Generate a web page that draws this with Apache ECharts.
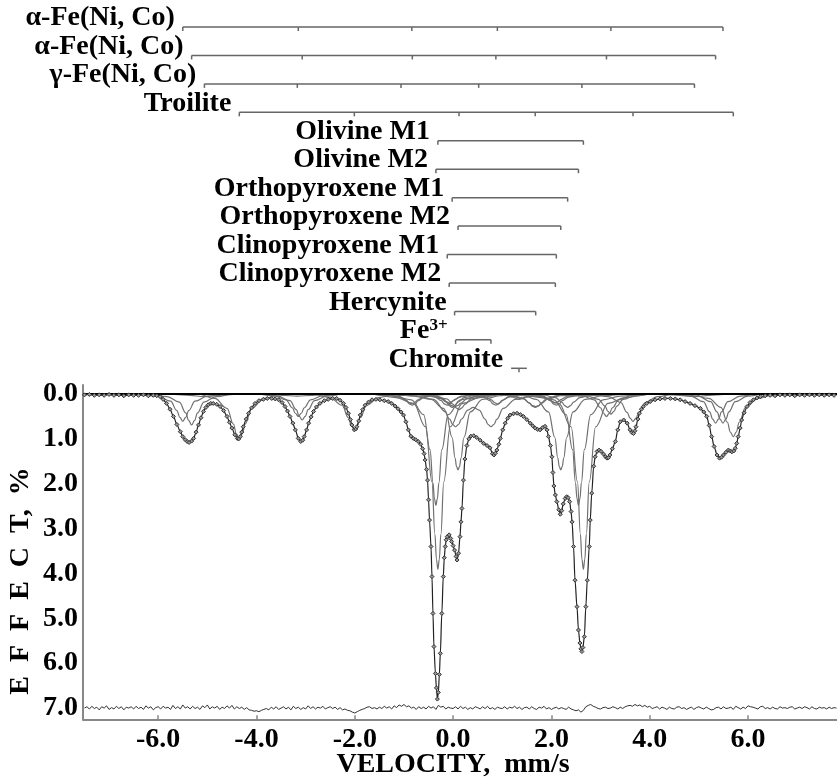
<!DOCTYPE html>
<html>
<head>
<meta charset="utf-8">
<script src="https://cdn.jsdelivr.net/npm/echarts@6/dist/echarts.min.js"></script>
<style>html,body{margin:0;padding:0;background:#fff;}#chart{width:837px;height:783px;}</style>
</head>
<body>
<div id="chart"></div>
<script>
// ---------- axes ----------
const X_MIN = -7.53, X_MAX = 7.81;
const Y_MIN = -0.2, Y_MAX = 7.25;
const xTicks = [-6, -4, -2, 0, 2, 4, 6];
const yTicks = [0, 1, 2, 3, 4, 5, 6, 7];
const xTitle = 'VELOCITY,  mm/s';
const yTitle = 'E  F  F  E  C  T,  %';

// ---------- stick diagrams (line positions, mm/s) ----------
const stickNames = ['α-Fe(Ni, Co)', 'α-Fe(Ni, Co)', 'γ-Fe(Ni, Co)', 'Troilite', 'Olivine M1', 'Olivine M2',
  'Orthopyroxene M1', 'Orthopyroxene M2', 'Clinopyroxene M1', 'Clinopyroxene M2', 'Hercynite', 'Fe3+', 'Chromite'];
const alphaFe1Lines = [-5.50, -3.15, -0.84, 0.90, 3.21, 5.49];
const alphaFe2Lines = [-5.32, -3.07, -0.83, 0.87, 3.12, 5.34];
const gammaFeLines = [-5.06, -3.17, -1.06, 0.52, 2.62, 4.91];
const troiliteLines = [-4.35, -2.01, 0.12, 1.67, 3.66, 5.70];
const olivineM1Lines = [-0.31, 2.65];
const olivineM2Lines = [-0.35, 2.55];
const opxM1Lines = [-0.02, 2.33];
const opxM2Lines = [0.10, 2.19];
const cpxM1Lines = [-0.12, 2.10];
const cpxM2Lines = [-0.08, 2.08];
const hercyniteLines = [0.03, 1.68];
const fe3Lines = [0.05, 0.77];
const chromiteLines = [1.34];

// ---------- spectrum envelope (velocity, effect %) ----------
const envelope = [
[-7.50,0.02],[-7.40,0.01],[-7.30,0.03],[-7.20,0.02],[-7.10,0.03],[-7.00,0.01],[-6.90,0.03],[-6.80,0.02],[-6.70,0.04],[-6.60,0.02],
[-6.50,0.03],[-6.40,0.03],[-6.30,0.02],[-6.20,0.04],[-6.10,0.03],[-6.03,0.04],[-5.96,0.06],[-5.90,0.12],[-5.83,0.21],[-5.76,0.34],
[-5.69,0.50],[-5.62,0.68],[-5.55,0.84],[-5.50,0.95],[-5.45,1.02],[-5.41,1.06],[-5.37,1.08],[-5.32,1.05],[-5.28,0.99],[-5.23,0.85],
[-5.18,0.69],[-5.13,0.53],[-5.08,0.39],[-5.03,0.30],[-4.98,0.24],[-4.93,0.21],[-4.88,0.21],[-4.81,0.23],[-4.74,0.28],[-4.67,0.37],
[-4.60,0.50],[-4.55,0.63],[-4.50,0.76],[-4.44,0.91],[-4.39,0.99],[-4.36,1.00],[-4.33,0.95],[-4.30,0.85],[-4.27,0.73],[-4.21,0.56],
[-4.16,0.43],[-4.10,0.31],[-4.03,0.21],[-3.95,0.15],[-3.86,0.12],[-3.78,0.10],[-3.69,0.10],[-3.62,0.11],[-3.55,0.13],[-3.48,0.19],
[-3.42,0.28],[-3.37,0.38],[-3.32,0.50],[-3.26,0.65],[-3.21,0.80],[-3.15,0.99],[-3.10,1.06],[-3.06,1.03],[-3.03,0.95],[-2.98,0.80],
[-2.94,0.65],[-2.89,0.51],[-2.84,0.39],[-2.78,0.29],[-2.71,0.21],[-2.62,0.15],[-2.54,0.12],[-2.45,0.10],[-2.37,0.10],[-2.30,0.14],
[-2.23,0.21],[-2.18,0.30],[-2.13,0.43],[-2.09,0.57],[-2.06,0.69],[-2.01,0.80],[-1.98,0.78],[-1.96,0.73],[-1.92,0.60],[-1.89,0.47],
[-1.84,0.35],[-1.79,0.25],[-1.72,0.18],[-1.65,0.13],[-1.57,0.12],[-1.49,0.13],[-1.40,0.15],[-1.32,0.17],[-1.25,0.21],[-1.18,0.27],
[-1.12,0.33],[-1.06,0.40],[-1.01,0.47],[-0.96,0.62],[-0.91,0.80],[-0.86,0.94],[-0.81,0.99],[-0.76,1.02],[-0.71,1.06],[-0.66,1.12],
[-0.62,1.22],[-0.59,1.33],[-0.57,1.47],[-0.54,1.68],[-0.52,1.92],[-0.50,2.36],[-0.48,2.81],[-0.45,3.40],[-0.43,4.07],[-0.41,4.89],
[-0.39,5.63],[-0.36,6.23],[-0.34,6.55],[-0.32,6.80],[-0.30,6.65],[-0.28,6.25],[-0.26,5.78],[-0.23,4.89],[-0.20,4.07],[-0.18,3.65],
[-0.16,3.40],[-0.14,3.25],[-0.12,3.18],[-0.08,3.14],[-0.05,3.22],[-0.03,3.29],[0.00,3.38],[0.03,3.48],[0.06,3.62],[0.08,3.70],
[0.11,3.55],[0.14,3.18],[0.16,2.85],[0.18,2.55],[0.21,1.92],[0.24,1.45],[0.28,1.15],[0.32,1.00],[0.36,0.94],[0.42,0.93],
[0.48,0.97],[0.55,1.03],[0.62,1.10],[0.69,1.15],[0.75,1.20],[0.80,1.33],[0.83,1.36],[0.86,1.32],[0.89,1.25],[0.93,1.12],
[0.96,0.99],[1.01,0.80],[1.06,0.65],[1.11,0.54],[1.16,0.47],[1.23,0.44],[1.30,0.43],[1.37,0.46],[1.43,0.50],[1.50,0.57],
[1.57,0.65],[1.62,0.71],[1.67,0.76],[1.72,0.79],[1.77,0.80],[1.82,0.75],[1.87,0.72],[1.91,0.80],[1.94,0.95],[1.98,1.15],
[2.01,1.40],[2.03,1.75],[2.05,2.05],[2.08,2.25],[2.11,2.40],[2.15,2.58],[2.18,2.68],[2.21,2.60],[2.24,2.45],[2.28,2.33],
[2.31,2.29],[2.34,2.31],[2.37,2.40],[2.40,2.62],[2.42,2.85],[2.45,3.40],[2.48,4.15],[2.52,4.74],[2.55,5.26],[2.58,5.55],
[2.60,5.68],[2.62,5.74],[2.64,5.65],[2.67,5.41],[2.70,4.74],[2.73,4.15],[2.77,3.40],[2.79,2.81],[2.82,2.21],[2.86,1.61],
[2.89,1.40],[2.93,1.28],[2.97,1.25],[3.01,1.28],[3.06,1.34],[3.10,1.40],[3.13,1.43],[3.16,1.42],[3.19,1.36],[3.24,1.22],
[3.30,1.06],[3.35,0.80],[3.40,0.62],[3.47,0.58],[3.54,0.65],[3.60,0.80],[3.64,0.86],[3.67,0.88],[3.70,0.82],[3.72,0.73],
[3.76,0.56],[3.79,0.43],[3.83,0.34],[3.87,0.28],[3.94,0.21],[4.01,0.17],[4.11,0.13],[4.21,0.11],[4.31,0.10],[4.42,0.10],
[4.52,0.11],[4.62,0.13],[4.72,0.17],[4.82,0.21],[4.92,0.26],[5.03,0.32],[5.10,0.40],[5.16,0.50],[5.21,0.70],[5.26,0.95],
[5.31,1.17],[5.37,1.36],[5.42,1.43],[5.46,1.41],[5.50,1.36],[5.55,1.30],[5.60,1.25],[5.64,1.27],[5.67,1.29],[5.71,1.27],
[5.74,1.21],[5.77,1.10],[5.80,0.95],[5.84,0.76],[5.87,0.58],[5.92,0.42],[5.98,0.28],[6.04,0.19],[6.11,0.13],[6.18,0.09],
[6.25,0.06],[6.35,0.04],[6.45,0.03],[6.55,0.04],[6.65,0.02],[6.75,0.03],[6.85,0.02],[6.95,0.04],[7.05,0.02],[7.15,0.03],
[7.25,0.02],[7.35,0.03],[7.45,0.02],[7.55,0.03],[7.65,0.02],[7.75,0.03]
];

// ---------- fitted subspectra (velocity, effect %) ----------
const alphaFe1Curve = [
[-6.35,0],[-6.00,0.05],[-5.75,0.16],[-5.62,0.37],[-5.56,0.52],[-5.50,0.61],[-5.44,0.52],[-5.38,0.37],[-5.25,0.16],[-5.00,0.05],[-4.65,0],
[-4.00,0],[-3.65,0.04],[-3.40,0.13],[-3.27,0.31],[-3.21,0.43],[-3.15,0.50],[-3.09,0.43],[-3.03,0.31],[-2.90,0.13],[-2.65,0.04],[-2.30,0],
[-1.69,0],[-1.34,0.02],[-1.09,0.06],[-0.96,0.13],[-0.90,0.19],[-0.84,0.22],[-0.78,0.19],[-0.72,0.13],[-0.59,0.06],[-0.34,0.02],[0.01,0],
[0.05,0],[0.40,0.02],[0.65,0.06],[0.78,0.13],[0.84,0.19],[0.90,0.22],[0.96,0.19],[1.02,0.13],[1.15,0.06],[1.40,0.02],[1.75,0],
[2.36,0],[2.71,0.04],[2.96,0.12],[3.09,0.27],[3.15,0.39],[3.21,0.45],[3.27,0.39],[3.33,0.27],[3.46,0.12],[3.71,0.04],[4.06,0],
[4.64,0],[4.99,0.05],[5.24,0.17],[5.37,0.40],[5.43,0.56],[5.49,0.65],[5.55,0.56],[5.61,0.40],[5.74,0.17],[5.99,0.05],[6.34,0]
];
const alphaFe2Curve = [
[-6.17,0],[-5.82,0.06],[-5.57,0.18],[-5.44,0.42],[-5.38,0.59],[-5.32,0.69],[-5.26,0.59],[-5.20,0.42],[-5.07,0.18],[-4.82,0.06],[-4.47,0],
[-3.92,0],[-3.57,0.05],[-3.32,0.15],[-3.19,0.35],[-3.13,0.50],[-3.07,0.58],[-3.01,0.50],[-2.95,0.35],[-2.82,0.15],[-2.57,0.05],[-2.22,0],
[-1.68,0],[-1.33,0.02],[-1.08,0.07],[-0.95,0.15],[-0.89,0.22],[-0.83,0.25],[-0.77,0.22],[-0.71,0.15],[-0.58,0.07],[-0.33,0.02],[0.00,0],
[0.04,0],[0.37,0.02],[0.62,0.07],[0.75,0.15],[0.81,0.22],[0.87,0.25],[0.93,0.22],[0.99,0.15],[1.12,0.07],[1.37,0.02],[1.72,0],
[2.27,0],[2.62,0.04],[2.87,0.13],[3.00,0.31],[3.06,0.43],[3.12,0.50],[3.18,0.43],[3.24,0.31],[3.37,0.13],[3.62,0.04],[3.97,0],
[4.49,0],[4.84,0.05],[5.09,0.17],[5.22,0.40],[5.28,0.56],[5.34,0.65],[5.40,0.56],[5.46,0.40],[5.59,0.17],[5.84,0.05],[6.19,0]
];
const gammaFeCurve = [
[-5.96,0],[-5.66,0.01],[-5.36,0.03],[-5.06,0.06],[-4.76,0.03],[-4.46,0.01],[-4.16,0],
[-4.07,0],[-3.77,0.01],[-3.47,0.03],[-3.17,0.05],[-2.87,0.03],[-2.57,0.01],[-2.27,0],
[-1.86,0],[-1.46,0.01],[-1.26,0.02],[-1.06,0.03],[-0.86,0.02],[-0.66,0.01],[-0.26,0],
[-0.18,0],[0.12,0.01],[0.32,0.02],[0.52,0.03],[0.72,0.02],[0.92,0.01],[1.32,0],
[1.72,0],[2.02,0.01],[2.32,0.03],[2.62,0.05],[2.92,0.03],[3.22,0.01],[3.52,0],
[4.01,0],[4.31,0.01],[4.61,0.03],[4.91,0.06],[5.21,0.03],[5.51,0.01],[5.81,0]
];
const troiliteCurve = [
[-5.20,0],[-4.85,0.10],[-4.60,0.32],[-4.47,0.67],[-4.41,0.89],[-4.35,1.00],[-4.29,0.89],[-4.23,0.67],[-4.10,0.32],[-3.85,0.10],[-3.50,0],
[-2.86,0],[-2.51,0.08],[-2.26,0.25],[-2.13,0.53],[-2.07,0.71],[-2.01,0.80],[-1.95,0.71],[-1.89,0.53],[-1.76,0.25],[-1.51,0.08],[-1.16,0],
[-0.73,0],[-0.38,0.04],[-0.13,0.11],[0.00,0.23],[0.06,0.31],[0.12,0.35],[0.18,0.31],[0.24,0.23],[0.37,0.11],[0.62,0.04],[0.97,0],
[1.00,0],[1.17,0.03],[1.42,0.09],[1.55,0.20],[1.61,0.27],[1.67,0.30],[1.73,0.27],[1.79,0.20],[1.92,0.09],[2.17,0.03],[2.52,0],
[2.81,0],[3.16,0.06],[3.41,0.19],[3.54,0.41],[3.60,0.54],[3.66,0.61],[3.72,0.54],[3.78,0.41],[3.91,0.19],[4.16,0.06],[4.51,0],
[4.85,0],[5.20,0.10],[5.45,0.30],[5.58,0.63],[5.64,0.85],[5.70,0.95],[5.76,0.85],[5.82,0.63],[5.95,0.30],[6.20,0.10],[6.55,0]
];
const olivineM1Curve = [
[-1.71,0],[-1.16,0.08],[-0.81,0.21],[-0.56,0.73],[-0.43,1.96],[-0.37,3.13],[-0.34,3.68],[-0.31,3.91],[-0.28,3.68],[-0.25,3.13],[-0.19,1.96],[-0.06,0.73],[0.19,0.21],[0.54,0.08],[1.09,0],
[1.25,0],[1.80,0.08],[2.15,0.21],[2.40,0.73],[2.53,1.96],[2.59,3.13],[2.62,3.68],[2.65,3.91],[2.68,3.68],[2.71,3.13],[2.77,1.96],[2.90,0.73],[3.15,0.21],[3.50,0.08],[4.05,0]
];
const olivineM2Curve = [
[-1.75,0],[-1.20,0.05],[-0.85,0.13],[-0.60,0.46],[-0.47,1.24],[-0.41,1.98],[-0.38,2.33],[-0.35,2.48],[-0.32,2.33],[-0.29,1.98],[-0.23,1.24],[-0.10,0.46],[0.15,0.13],[0.50,0.05],[1.05,0],
[1.15,0],[1.70,0.05],[2.05,0.13],[2.30,0.46],[2.43,1.24],[2.49,1.98],[2.52,2.33],[2.55,2.48],[2.58,2.33],[2.61,1.98],[2.67,1.24],[2.80,0.46],[3.05,0.13],[3.40,0.05],[3.95,0]
];
const opxM1Curve = [
[-0.87,0],[-0.52,0.02],[-0.27,0.08],[-0.14,0.18],[-0.08,0.26],[-0.02,0.30],[0.04,0.26],[0.10,0.18],[0.23,0.08],[0.48,0.02],[0.83,0],
[1.48,0],[1.83,0.02],[2.08,0.08],[2.21,0.18],[2.27,0.26],[2.33,0.30],[2.39,0.26],[2.45,0.18],[2.58,0.08],[2.83,0.02],[3.18,0]
];
const opxM2Curve = [
[-1.25,0],[-0.75,0.04],[-0.40,0.12],[-0.15,0.40],[-0.02,0.97],[0.04,1.43],[0.07,1.62],[0.10,1.69],[0.13,1.62],[0.16,1.43],[0.22,0.97],[0.35,0.40],[0.60,0.12],[0.95,0.04],[1.15,0],
[1.25,0],[1.44,0.04],[1.69,0.12],[1.94,0.40],[2.07,0.97],[2.13,1.43],[2.16,1.62],[2.19,1.69],[2.22,1.62],[2.25,1.43],[2.31,0.97],[2.44,0.40],[2.69,0.12],[3.04,0.04],[3.55,0]
];
const cpxM1Curve = [
[-0.97,0],[-0.62,0.02],[-0.37,0.07],[-0.24,0.15],[-0.18,0.22],[-0.12,0.25],[-0.06,0.22],[0.00,0.15],[0.13,0.07],[0.38,0.02],[0.73,0],
[1.25,0],[1.60,0.02],[1.85,0.07],[1.98,0.15],[2.04,0.22],[2.10,0.25],[2.16,0.22],[2.22,0.15],[2.35,0.07],[2.60,0.02],[2.95,0]
];
const cpxM2Curve = [
[-0.93,0],[-0.58,0.02],[-0.33,0.05],[-0.20,0.12],[-0.14,0.17],[-0.08,0.20],[-0.02,0.17],[0.04,0.12],[0.17,0.05],[0.42,0.02],[0.77,0],
[1.23,0],[1.58,0.02],[1.83,0.05],[1.96,0.12],[2.02,0.17],[2.08,0.20],[2.14,0.17],[2.20,0.12],[2.33,0.05],[2.58,0.02],[2.93,0]
];
const hercyniteCurve = [
[-0.82,0],[-0.47,0.04],[-0.22,0.11],[-0.09,0.21],[-0.03,0.26],[0.03,0.28],[0.09,0.26],[0.15,0.21],[0.28,0.11],[0.53,0.04],[0.83,0],
[0.88,0],[1.18,0.04],[1.43,0.11],[1.56,0.21],[1.62,0.26],[1.68,0.28],[1.74,0.26],[1.80,0.21],[1.93,0.11],[2.18,0.04],[2.53,0]
];
const fe3Curve = [
[-1.20,0],[-0.80,0.05],[-0.45,0.12],[-0.20,0.32],[-0.07,0.56],[-0.01,0.68],[0.05,0.73],[0.11,0.68],[0.17,0.56],[0.30,0.36],
[0.41,0.30],[0.53,0.36],[0.65,0.56],[0.71,0.68],[0.77,0.73],[0.83,0.68],[0.89,0.56],[1.02,0.32],[1.27,0.12],[1.62,0.05],[2.00,0]
];
const chromiteCurve = [
[0.49,0],[0.84,0.01],[1.09,0.03],[1.22,0.07],[1.28,0.10],[1.34,0.12],[1.40,0.10],[1.46,0.07],[1.59,0.03],[1.84,0.01],[2.19,0]
];

// ---------- residual (plotted around 7.0) ----------
const residual = [
[-7.50,7.00],[-7.45,6.97],[-7.40,7.02],[-7.35,6.96],[-7.30,7.01],[-7.25,6.98],[-7.20,7.04],[-7.15,6.97],[-7.10,7.00],[-7.05,6.95],
[-7.00,7.03],[-6.95,6.99],[-6.90,7.02],[-6.85,6.96],[-6.80,7.01],[-6.75,6.97],[-6.70,7.04],[-6.65,6.98],[-6.60,7.00],[-6.55,6.97],
[-6.50,7.02],[-6.45,6.96],[-6.40,7.01],[-6.35,6.98],[-6.30,7.03],[-6.25,6.95],[-6.20,7.00],[-6.15,6.97],[-6.10,7.04],[-6.05,6.99],
[-6.00,6.97],[-5.95,7.02],[-5.90,6.96],[-5.85,7.00],[-5.80,6.98],[-5.75,7.03],[-5.70,6.94],[-5.65,7.01],[-5.60,6.97],[-5.55,7.02],
[-5.50,6.93],[-5.45,7.00],[-5.40,6.97],[-5.35,7.02],[-5.30,6.96],[-5.25,7.01],[-5.20,6.98],[-5.15,7.03],[-5.10,6.95],[-5.05,6.99],
[-5.00,6.93],[-4.95,7.02],[-4.90,6.97],[-4.85,7.00],[-4.80,6.96],[-4.75,7.03],[-4.70,6.98],[-4.65,7.01],[-4.60,6.95],[-4.55,7.00],
[-4.50,6.94],[-4.45,7.02],[-4.40,6.97],[-4.35,7.01],[-4.30,6.98],[-4.25,7.03],[-4.20,6.99],[-4.15,7.04],[-4.10,7.05],[-4.05,7.07],
[-4.00,7.06],[-3.95,7.08],[-3.90,7.05],[-3.85,7.03],[-3.80,7.01],[-3.75,7.04],[-3.70,6.98],[-3.65,7.02],[-3.60,6.97],[-3.55,7.03],
[-3.50,7.00],[-3.45,6.97],[-3.40,7.02],[-3.35,6.98],[-3.30,7.04],[-3.25,6.96],[-3.20,7.01],[-3.15,6.98],[-3.10,7.03],[-3.05,6.99],
[-3.00,7.02],[-2.95,6.95],[-2.90,7.01],[-2.85,6.97],[-2.80,7.02],[-2.75,6.98],[-2.70,7.00],[-2.65,6.96],[-2.60,7.02],[-2.55,6.99],
[-2.50,6.97],[-2.45,7.01],[-2.40,6.98],[-2.35,7.03],[-2.30,6.99],[-2.25,7.04],[-2.20,7.02],[-2.15,7.05],[-2.10,7.06],[-2.05,7.09],
[-2.00,7.11],[-1.95,7.08],[-1.90,7.05],[-1.85,7.03],[-1.80,7.01],[-1.75,6.98],[-1.70,6.97],[-1.65,7.01],[-1.60,6.99],[-1.55,7.02],
[-1.50,6.98],[-1.45,7.01],[-1.40,6.96],[-1.35,7.00],[-1.30,6.97],[-1.25,7.02],[-1.20,6.95],[-1.15,6.99],[-1.10,6.93],[-1.05,6.96],
[-1.00,6.92],[-0.95,6.97],[-0.90,6.95],[-0.85,7.00],[-0.80,6.98],[-0.75,7.03],[-0.70,6.97],[-0.65,7.01],[-0.60,6.98],[-0.55,7.02],
[-0.50,6.96],[-0.45,7.00],[-0.40,6.97],[-0.35,7.03],[-0.30,6.94],[-0.25,6.98],[-0.20,6.96],[-0.15,7.02],[-0.10,6.98],[-0.05,7.00],
[0.00,7.01],[0.05,6.97],[0.10,7.02],[0.15,6.96],[0.20,7.01],[0.25,6.98],[0.30,7.03],[0.35,6.99],[0.40,7.02],[0.45,6.97],
[0.50,6.99],[0.55,7.02],[0.60,6.97],[0.65,7.01],[0.70,6.96],[0.75,7.02],[0.80,6.99],[0.85,7.03],[0.90,6.98],[0.95,7.00],
[1.00,7.01],[1.05,6.97],[1.10,7.02],[1.15,6.98],[1.20,7.00],[1.25,6.96],[1.30,7.01],[1.35,6.98],[1.40,7.03],[1.45,6.99],
[1.50,6.98],[1.55,7.02],[1.60,6.97],[1.65,7.01],[1.70,7.03],[1.75,6.98],[1.80,7.00],[1.85,6.96],[1.90,7.02],[1.95,6.99],
[2.00,7.03],[2.05,7.00],[2.10,6.98],[2.15,7.02],[2.20,6.99],[2.25,7.01],[2.30,7.03],[2.35,6.98],[2.40,7.02],[2.45,7.04],
[2.50,7.06],[2.55,7.04],[2.60,7.09],[2.65,7.05],[2.70,6.97],[2.75,6.94],[2.80,6.92],[2.85,6.96],[2.90,6.98],[2.95,7.01],
[3.00,7.02],[3.05,6.99],[3.10,6.98],[3.15,7.01],[3.20,7.00],[3.25,6.97],[3.30,6.99],[3.35,7.02],[3.40,6.98],[3.45,7.01],
[3.50,6.97],[3.55,6.95],[3.60,6.94],[3.65,6.96],[3.70,6.92],[3.75,6.95],[3.80,6.93],[3.85,6.97],[3.90,6.94],[3.95,6.98],
[4.00,6.96],[4.05,7.01],[4.10,6.99],[4.15,6.97],[4.20,7.02],[4.25,6.98],[4.30,7.00],[4.35,7.03],[4.40,6.98],[4.45,7.01],
[4.50,7.02],[4.55,6.98],[4.60,6.97],[4.65,7.01],[4.70,6.99],[4.75,7.03],[4.80,7.00],[4.85,6.98],[4.90,7.03],[4.95,6.99],
[5.00,6.97],[5.05,7.00],[5.10,7.02],[5.15,6.98],[5.20,7.01],[5.25,7.04],[5.30,7.03],[5.35,6.99],[5.40,6.98],[5.45,7.02],
[5.50,6.97],[5.55,7.01],[5.60,7.00],[5.65,6.98],[5.70,7.03],[5.75,6.96],[5.80,6.99],[5.85,7.02],[5.90,6.98],[5.95,7.01],
[6.00,6.95],[6.05,6.97],[6.10,6.98],[6.15,7.00],[6.20,7.02],[6.25,6.97],[6.30,6.96],[6.35,7.01],[6.40,6.99],[6.45,7.02],
[6.50,6.98],[6.55,7.01],[6.60,7.02],[6.65,6.97],[6.70,7.00],[6.75,6.99],[6.80,7.01],[6.85,6.98],[6.90,6.97],[6.95,7.02],
[7.00,7.00],[7.05,6.98],[7.10,7.01],[7.15,6.97],[7.20,6.99],[7.25,7.02],[7.30,6.97],[7.35,7.01],[7.40,7.02],[7.45,6.98],
[7.50,7.00],[7.55,6.99],[7.60,7.02],[7.65,6.98],[7.70,7.01],[7.75,6.99],[7.80,7.00]
];

// ---------- build ----------
const FONT = '"Liberation Serif", "Times New Roman", serif';
const stickLines = [alphaFe1Lines, alphaFe2Lines, gammaFeLines, troiliteLines, olivineM1Lines, olivineM2Lines,
  opxM1Lines, opxM2Lines, cpxM1Lines, cpxM2Lines, hercyniteLines, fe3Lines, chromiteLines];
const components = [alphaFe1Curve, alphaFe2Curve, gammaFeCurve, troiliteCurve, olivineM1Curve, olivineM2Curve,
  opxM1Curve, opxM2Curve, cpxM1Curve, cpxM2Curve, hercyniteCurve, fe3Curve, chromiteCurve];
const SINGLET_HALF = 0.16; // half-length of the singlet marker bar, mm/s

function renderStick(params, api) {
  const i = params.dataIndex;
  const lines = stickLines[i];
  const y = api.coord([lines[0], i])[1];
  const xs = lines.map(v => api.coord([v, i])[0]);
  let x0 = xs[0], x1 = xs[xs.length - 1];
  if (xs.length === 1) {
    const half = api.size([SINGLET_HALF, 0])[0];
    x0 -= half; x1 += half;
  }
  const stroke = '#666';
  const children = [{
    type: 'line', shape: { x1: x0, y1: y, x2: x1, y2: y },
    style: { stroke: stroke, lineWidth: 1.5 }
  }];
  xs.forEach(x => children.push({
    type: 'line', shape: { x1: x, y1: y, x2: x, y2: y + 4 },
    style: { stroke: stroke, lineWidth: 1.5 }
  }));
  const name = stickNames[i];
  const textStyle = {
    x: x0 - 8, y: y - 9, align: 'right', verticalAlign: 'middle',
    fill: '#000', fontSize: 28, fontWeight: 'bold', fontFamily: FONT
  };
  if (name === 'Fe3+') {
    textStyle.text = '{b|Fe}{s|3+}';
    textStyle.rich = {
      b: { fontSize: 28, fontWeight: 'bold', fontFamily: FONT, fill: '#000', lineHeight: 28 },
      s: { fontSize: 17, fontWeight: 'bold', fontFamily: FONT, fill: '#000', verticalAlign: 'top', lineHeight: 17 }
    };
  } else {
    textStyle.text = name;
  }
  children.push({ type: 'text', style: textStyle });
  return { type: 'group', children: children };
}

const chart = echarts.init(document.getElementById('chart'), null, { renderer: 'canvas' });

const series = [];
components.forEach((c, k) => {
  series.push({
    type: 'line', name: 'component' + k, xAxisIndex: 0, yAxisIndex: 0,
    data: [[X_MIN, 0]].concat(c, [[X_MAX, 0]]),
    smooth: 0.4, smoothMonotone: 'x', showSymbol: false, symbol: 'none',
    lineStyle: { color: '#707070', width: 1.2 }, z: 2, silent: true
  });
});
series.push({
  type: 'line', name: 'baseline', data: [[X_MIN, 0], [X_MAX, 0]], symbol: 'none',
  lineStyle: { color: '#000', width: 2 }, z: 3
});
series.push({
  type: 'line', name: 'spectrum', data: envelope, smooth: 0.3, smoothMonotone: 'x',
  symbol: 'diamond', symbolSize: 4, showSymbol: true,
  itemStyle: { color: '#999', borderColor: '#333', borderWidth: 1 },
  lineStyle: { color: '#222', width: 1.2 }, z: 4
});
series.push({
  type: 'line', name: 'residual', data: residual, symbol: 'none',
  lineStyle: { color: '#333', width: 1 }, z: 4
});
series.push({
  type: 'custom', name: 'sticks', xAxisIndex: 1, yAxisIndex: 1,
  data: stickLines.map((l, i) => [l[0], i]),
  encode: { x: 0, y: 1 },
  renderItem: renderStick, z: 5
});

const labelStyle = { color: '#000', fontSize: 28, fontWeight: 'bold', fontFamily: FONT };

chart.setOption({
  animation: false,
  backgroundColor: '#fff',
  grid: [
    { left: 83, right: 0, top: 385, bottom: 63.7, containLabel: false },
    { left: 83, right: 0, top: 27, height: 341.3, containLabel: false }
  ],
  xAxis: [{
    type: 'value', gridIndex: 0, min: X_MIN, max: X_MAX,
    axisLine: { show: true, onZero: false, lineStyle: { color: '#888', width: 2 } },
    axisTick: { show: true, inside: true, length: 4, customValues: xTicks, lineStyle: { color: '#888', width: 1.5 } },
    axisLabel: Object.assign({ customValues: xTicks, margin: 6, formatter: v => v.toFixed(1) }, labelStyle),
    splitLine: { show: false }
  }, {
    type: 'value', gridIndex: 1, min: X_MIN, max: X_MAX, show: false
  }],
  yAxis: [{
    type: 'value', gridIndex: 0, min: Y_MIN, max: Y_MAX, inverse: true,
    axisLine: { show: true, onZero: false, lineStyle: { color: '#888', width: 2 } },
    axisTick: { show: false },
    axisLabel: Object.assign({ customValues: yTicks, margin: 5, formatter: v => v.toFixed(1) }, labelStyle),
    splitLine: { show: false }
  }, {
    type: 'value', gridIndex: 1, min: 0, max: stickNames.length - 1, inverse: true, show: false
  }],
  graphic: [{
    type: 'text', x: 453, y: 765,
    style: { text: xTitle, x: 0, y: 0, align: 'center', verticalAlign: 'middle',
      fill: '#000', fontSize: 28, fontWeight: 'bold', fontFamily: FONT }
  }, {
    type: 'text', x: 21, y: 581, rotation: Math.PI / 2,
    style: { text: yTitle, x: 0, y: 0, align: 'center', verticalAlign: 'middle',
      fill: '#000', fontSize: 28, fontWeight: 'bold', fontFamily: FONT }
  }],
  series: series
});
</script>
</body>
</html>
